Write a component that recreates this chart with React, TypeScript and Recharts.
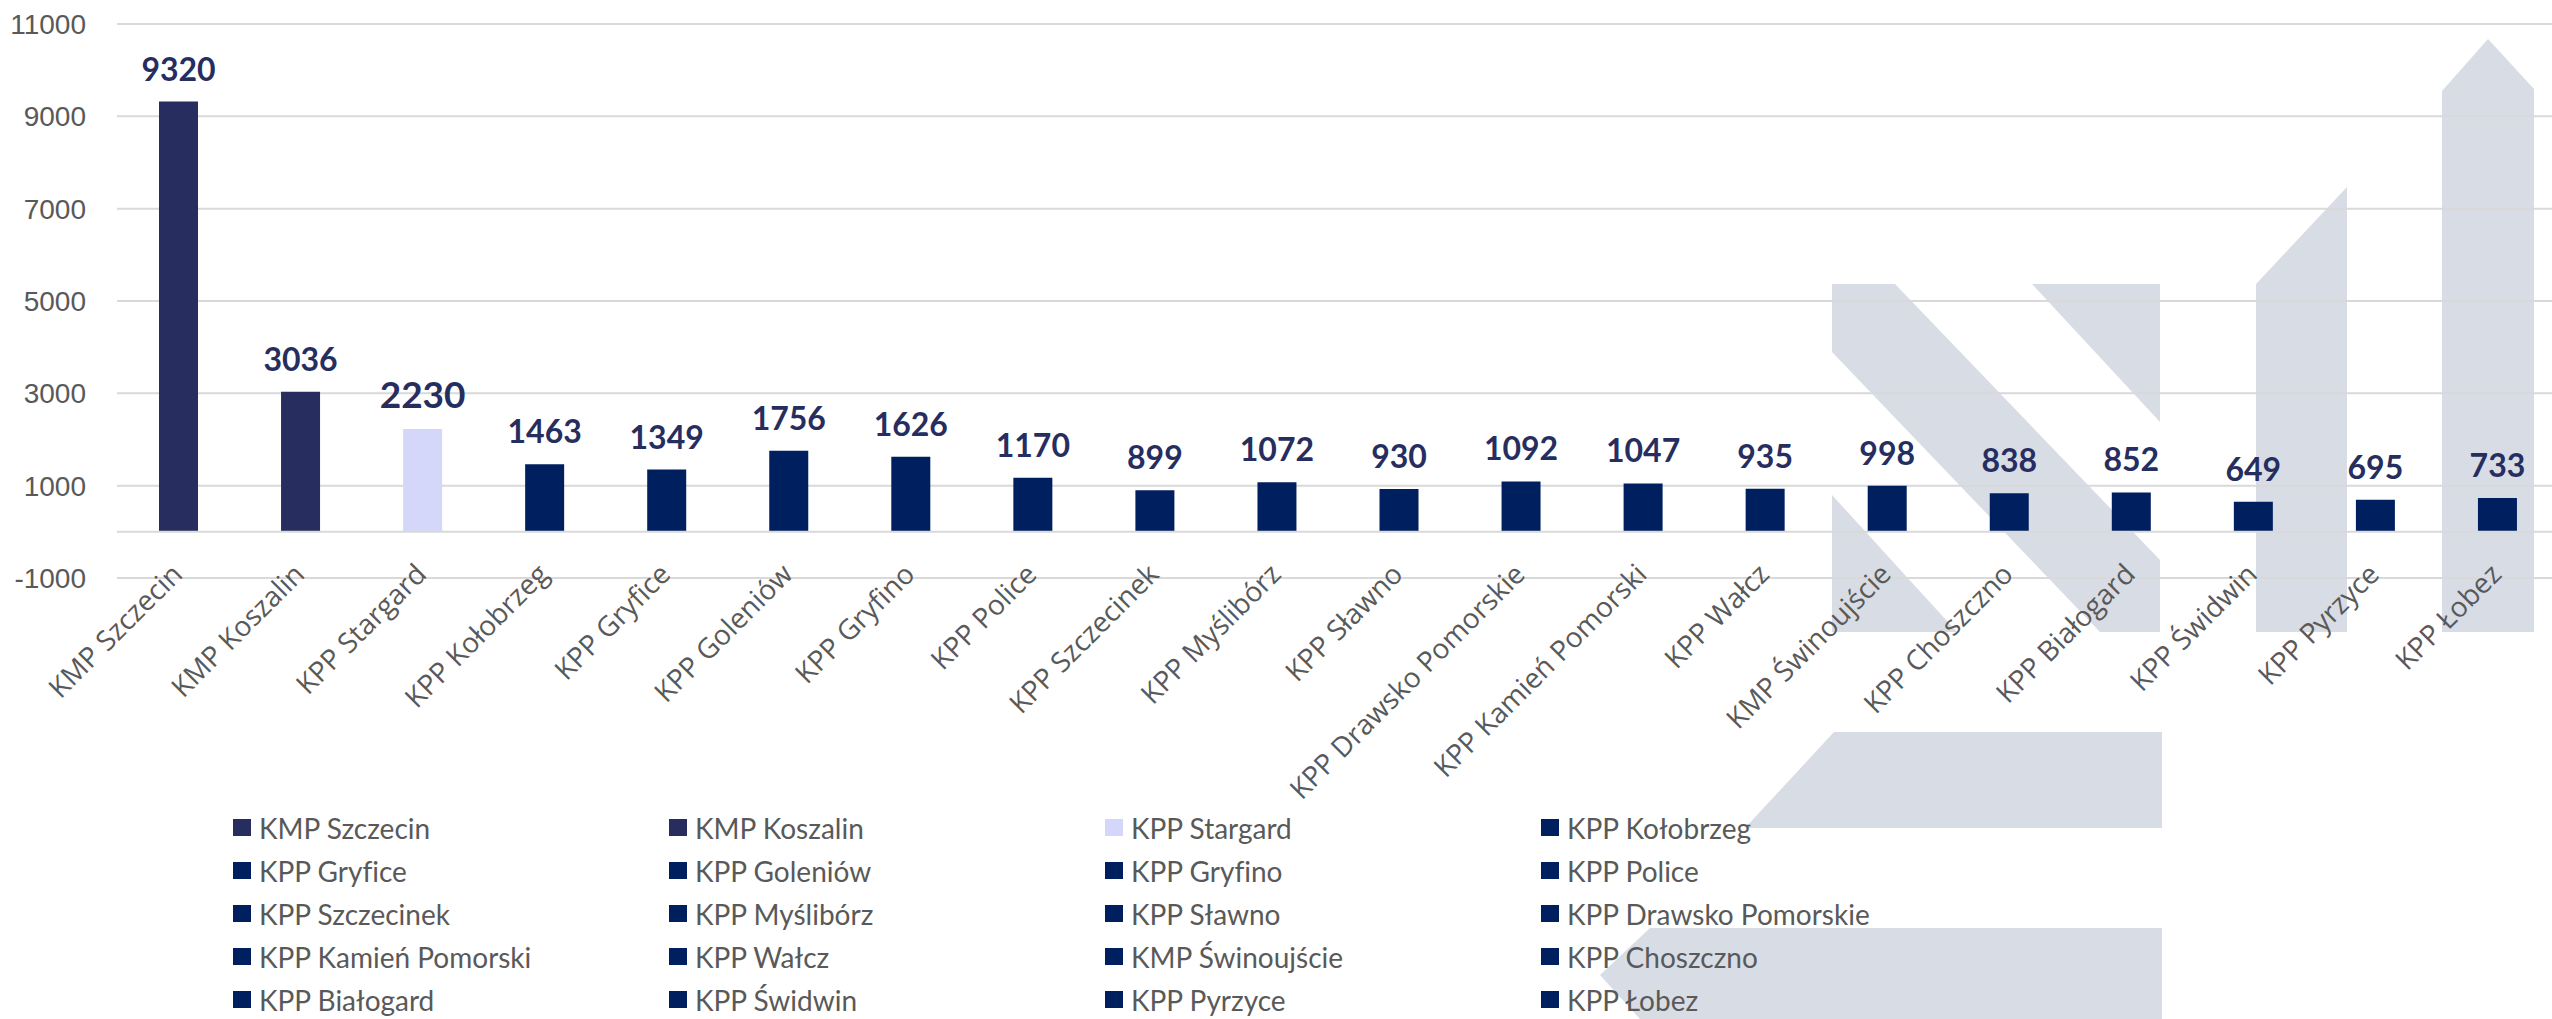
import React from 'react';
import { BarChart, Bar, XAxis, YAxis, CartesianGrid, Cell, LabelList, ReferenceLine } from 'recharts';

// Police units (chart categories) and their counts
const units = [
  'KMP Szczecin', 'KMP Koszalin', 'KPP Stargard', 'KPP Kołobrzeg', 'KPP Gryfice',
  'KPP Goleniów', 'KPP Gryfino', 'KPP Police', 'KPP Szczecinek', 'KPP Myślibórz',
  'KPP Sławno', 'KPP Drawsko Pomorskie', 'KPP Kamień Pomorski', 'KPP Wałcz', 'KMP Świnoujście',
  'KPP Choszczno', 'KPP Białogard', 'KPP Świdwin', 'KPP Pyrzyce', 'KPP Łobez',
];
const counts = [9320, 3036, 2230, 1463, 1349, 1756, 1626, 1170, 899, 1072, 930, 1092, 1047, 935, 998, 838, 852, 649, 695, 733];
const yTicks = [-1000, 1000, 3000, 5000, 7000, 9000, 11000];

const darkUnits = ['KMP Szczecin', 'KMP Koszalin'];
const highlightUnit = 'KPP Stargard';

const colorFor = (name: string) => {
  if (darkUnits.includes(name)) return '#272D5E';
  if (name === highlightUnit) return '#D5D7FA';
  return '#001F5F';
};

const data = units.map((name, i) => ({ name, value: counts[i] }));

const W = 2552;
const H = 1019;
const GRAY = '#595959';

// background logo watermark (decoration, not data)
const Watermark = () => (
  <svg width={W} height={H} style={{ position: 'absolute', left: 0, top: 0 }}>
    <g fill="#D8DCE5">
      <polygon points="1832,284 1895,284 2160,560 2160,632 2100,632 1832,352" />
      <polygon points="2032,284 2160,284 2160,422" />
      <polygon points="1832,495 1957,632 1832,632" />
      <polygon points="2256,284 2347,187 2347,632 2256,632" />
      <polygon points="2442,91 2488,39 2534,89 2534,632 2442,632" />
      <polygon points="1834,732 2162,732 2162,828 1745,828" />
      <polygon points="1650,928 2162,928 2162,1019 1640,1019 1600,975" />
    </g>
  </svg>
);

const CategoryTick = (props: any) => {
  const { x, y, payload } = props;
  return (
    <g transform={`translate(${x + 6},${y - 2})`}>
      <text textAnchor="end" transform="rotate(-45)" fill={GRAY} fontSize={28} fontFamily="'Open Sans'">
        {payload.value}
      </text>
    </g>
  );
};

const ValueLabel = (props: any) => {
  const { x, y, width, value, index } = props;
  const big = units[index] === highlightUnit;
  return (
    <text
      x={Number(x) + Number(width) / 2}
      y={Number(y) - 21}
      textAnchor="middle"
      fill="#262E5F"
      fontSize={big ? 37 : 32}
      fontWeight={700}
      fontFamily="Lato"
    >
      {value}
    </text>
  );
};

const LegendBlock = () => (
  <div
    style={{
      position: 'absolute',
      top: 806,
      left: 233,
      display: 'grid',
      gridTemplateColumns: 'repeat(4, 436px)',
      fontFamily: 'Lato',
      fontSize: 28,
      color: GRAY,
      fontVariantLigatures: 'none',
    }}
  >
    {units.map((name) => (
      <div key={name} style={{ display: 'flex', alignItems: 'center', height: 43 }}>
        <span style={{ width: 18, height: 17, background: colorFor(name), marginRight: 8, display: 'inline-block' }} />
        <span>{name}</span>
      </div>
    ))}
  </div>
);

export default function App() {
  return (
    <div style={{ position: 'absolute', left: 0, top: 0, width: W, height: H, background: '#fff', overflow: 'hidden' }}>
      <Watermark />
      <div style={{ position: 'absolute', left: 0, top: 0 }}>
        <BarChart width={W} height={H} data={data} margin={{ top: 24, right: -6, bottom: 381, left: 0 }}>
          <CartesianGrid vertical={false} stroke="#D9D9D9" strokeWidth={2} />
          <XAxis
            dataKey="name"
            interval={0}
            axisLine={false}
            tickLine={false}
            tickSize={0}
            tickMargin={0}
            height={60}
            tick={<CategoryTick />}
          />
          <YAxis
            domain={[-1000, 11000]}
            ticks={yTicks}
            width={117}
            axisLine={false}
            tickLine={false}
            tickSize={0}
            tickMargin={31}
            tick={{ fill: GRAY, fontSize: 28, fontFamily: "'Liberation Sans'" }}
          />
          <ReferenceLine y={0} stroke="#D9D9D9" strokeWidth={2} />
          <Bar dataKey="value" barSize={39} isAnimationActive={false}>
            {data.map((d) => (
              <Cell key={d.name} fill={colorFor(d.name)} />
            ))}
            <LabelList dataKey="value" content={<ValueLabel />} />
          </Bar>
        </BarChart>
      </div>
      <LegendBlock />
    </div>
  );
}
